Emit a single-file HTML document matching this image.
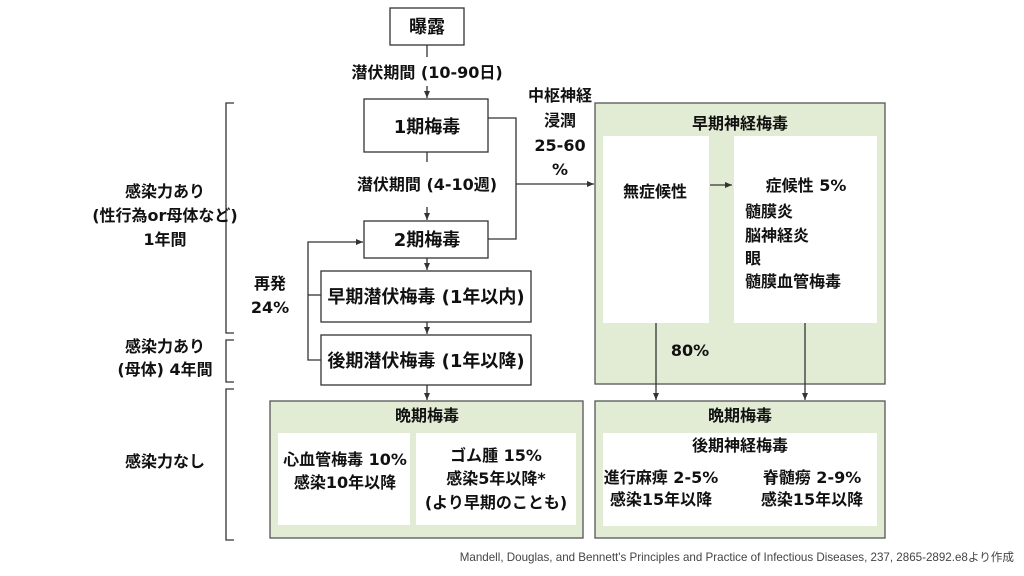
<!DOCTYPE html>
<html><head><meta charset="utf-8"><style>
body{margin:0;background:#fff;width:1024px;height:576px;overflow:hidden}
svg{display:block}
text{font-family:"DejaVu Sans","Noto Sans CJK JP",sans-serif;font-weight:bold;fill:#111}
.b{font-size:18px}
.f{font-size:11.6px;font-weight:normal;fill:#444;font-family:"Liberation Sans","Noto Sans CJK JP",sans-serif}
</style></head><body>
<svg width="1024" height="576" viewBox="0 0 1024 576" font-size="16">
<defs><marker id="a" markerWidth="8" markerHeight="8" refX="7" refY="4" orient="auto" markerUnits="userSpaceOnUse"><path d="M0,1 L7,4 L0,7z" fill="#333"/></marker></defs>
<g stroke="#333" stroke-width="1.3" fill="none">
<rect x="390" y="8" width="74" height="37" fill="#fff"/>
<rect x="364" y="99" width="124" height="53" fill="#fff"/>
<rect x="364" y="221" width="124" height="37" fill="#fff"/>
<rect x="321" y="271" width="210" height="51" fill="#fff"/>
<rect x="321" y="335" width="210" height="50" fill="#fff"/>
<line x1="427" y1="45" x2="427" y2="57"/>
<line x1="427" y1="86" x2="427" y2="98" marker-end="url(#a)"/>
<line x1="427" y1="152" x2="427" y2="162"/>
<line x1="427" y1="207" x2="427" y2="220" marker-end="url(#a)"/>
<line x1="427" y1="258" x2="427" y2="270" marker-end="url(#a)"/>
<line x1="427" y1="322" x2="427" y2="334" marker-end="url(#a)"/>
<line x1="427" y1="385" x2="427" y2="400" marker-end="url(#a)"/>
<polyline points="321,360 308,360 308,242 363,242" marker-end="url(#a)"/>
<line x1="308" y1="295" x2="321" y2="295"/>
<polyline points="488,118 516,118 516,239 488,239"/>
<line x1="516" y1="184" x2="594" y2="184" marker-end="url(#a)"/>
<path d="M234,103 H226 V333 H234 M234,340 H226 V382 H234 M234,389 H226 V540 H234"/>
<rect x="595" y="103" width="290" height="281" fill="#e2ebd4" stroke="#555"/>
<rect x="595" y="401" width="290" height="137" fill="#e2ebd4" stroke="#555"/>
<rect x="270" y="401" width="313" height="137" fill="#e2ebd4" stroke="#555"/>
<line x1="710" y1="185" x2="732" y2="185" marker-end="url(#a)"/>
<line x1="656" y1="323" x2="656" y2="400" marker-end="url(#a)"/>
<line x1="805" y1="323" x2="805" y2="400" marker-end="url(#a)"/>
</g>
<g fill="#fff">
<rect x="603" y="136" width="106" height="187"/>
<rect x="734" y="136" width="143" height="187"/>
<rect x="603" y="433" width="274" height="93"/>
<rect x="278" y="433" width="132" height="92"/>
<rect x="416" y="433" width="160" height="92"/>
</g>
<g text-anchor="middle">
<text x="427" y="33" class="b">曝露</text>
<text x="427" y="78">潜伏期間 (10-90日)</text>
<text x="427" y="133" class="b">1期梅毒</text>
<text x="427" y="190">潜伏期間 (4-10週)</text>
<text x="427" y="246" class="b">2期梅毒</text>
<text x="426" y="303" class="b">早期潜伏梅毒 (1年以内)</text>
<text x="426" y="367" class="b">後期潜伏梅毒 (1年以降)</text>
<text x="560" y="101">中枢神経</text>
<text x="560" y="126">浸潤</text>
<text x="560" y="151">25-60</text>
<text x="560" y="175">%</text>
<text x="270" y="289">再発</text>
<text x="270" y="313">24%</text>
<text x="165" y="197">感染力あり</text>
<text x="165" y="221">(性行為or母体など)</text>
<text x="165" y="245">1年間</text>
<text x="165" y="352">感染力あり</text>
<text x="165" y="375">(母体) 4年間</text>
<text x="165" y="467">感染力なし</text>
<text x="740" y="129">早期神経梅毒</text>
<text x="655" y="197">無症候性</text>
<text x="806" y="191">症候性 5%</text>
<text x="690" y="356">80%</text>
<text x="740" y="421">晩期梅毒</text>
<text x="740" y="451">後期神経梅毒</text>
<text x="661" y="483">進行麻痺 2-5%</text>
<text x="661" y="505">感染15年以降</text>
<text x="812" y="483">脊髄癆 2-9%</text>
<text x="812" y="505">感染15年以降</text>
<text x="427" y="421">晩期梅毒</text>
<text x="345" y="465">心血管梅毒 10%</text>
<text x="345" y="488">感染10年以降</text>
<text x="496" y="461">ゴム腫 15%</text>
<text x="496" y="484">感染5年以降*</text>
<text x="496" y="508">(より早期のことも)</text>
</g>
<text x="745" y="217">髄膜炎</text>
<text x="745" y="241">脳神経炎</text>
<text x="745" y="264">眼</text>
<text x="745" y="287">髄膜血管梅毒</text>
<text x="1014" y="561" text-anchor="end" class="f">Mandell, Douglas, and Bennett's Principles and Practice of Infectious Diseases, 237, 2865-2892.e8より作成</text>
</svg>
</body></html>
